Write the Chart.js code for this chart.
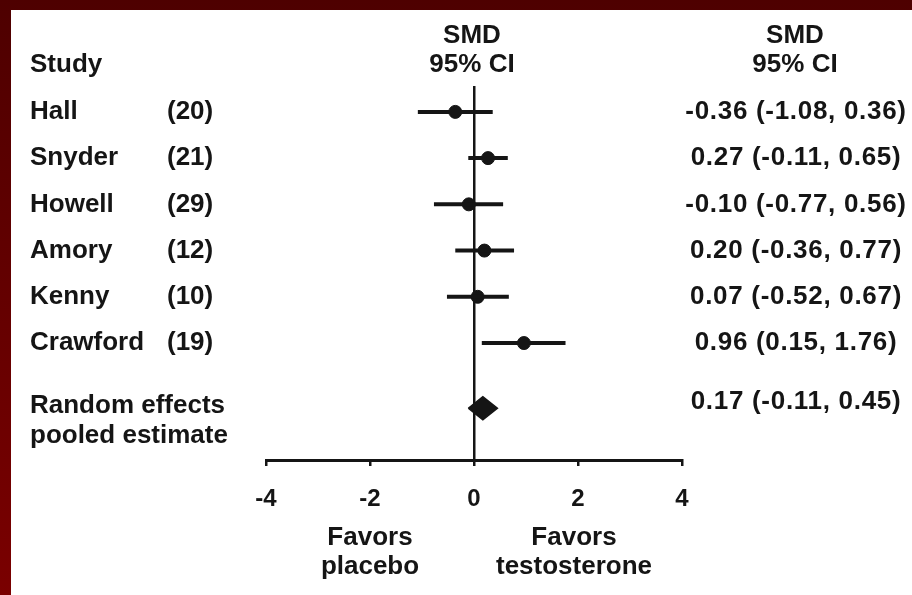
<!DOCTYPE html>
<html>
<head>
<meta charset="utf-8">
<script src="https://cdn.jsdelivr.net/npm/chart.js@4.4.1/dist/chart.umd.min.js"></script>
<style>
  html, body { margin: 0; padding: 0; }
  body { width: 912px; height: 595px; position: relative; overflow: hidden;
         background: linear-gradient(#4e0000, #7a0000); }
  #panel { position: absolute; left: 11px; top: 10px; width: 901px; height: 585px; background: #fff; }
  #c { position: absolute; left: 0; top: 0; }
</style>
</head>
<body>
<div id="panel"></div>
<canvas id="c" width="912" height="595"></canvas>
<script>
// ---- data ----
const studies = ['Hall', 'Snyder', 'Howell', 'Amory', 'Kenny', 'Crawford'];
const refNumbers = [20, 21, 29, 12, 10, 19];
const smd = [-0.36, 0.27, -0.10, 0.20, 0.07, 0.96];
const ciLow = [-1.08, -0.11, -0.77, -0.36, -0.52, 0.15];
const ciHigh = [0.36, 0.65, 0.56, 0.77, 0.67, 1.76];
const pooledLabel = ['Random effects', 'pooled estimate'];
const pooledSmd = 0.17;
const pooledLow = -0.11;
const pooledHigh = 0.45;
const xTicks = [-4, -2, 0, 2, 4];
const sideLabels = ['Favors\nplacebo', 'Favors\ntestosterone'];

// ---- layout helpers ----
const pooledRow = studies.length + 0.41;
const diamondHalf = 0.25;
const INK = '#151515';
const FONT = 'bold 26px "Liberation Sans", Arial, Helvetica, sans-serif';
const fmt = v => v.toFixed(2);

const datasets = [];
studies.forEach((s, i) => {
  datasets.push({
    type: 'line',
    data: [{x: ciLow[i], y: i}, {x: ciHigh[i], y: i}],
    borderColor: INK, borderWidth: 4, pointRadius: 0, fill: false
  });
});
datasets.push({
  type: 'scatter',
  data: studies.map((s, i) => ({x: smd[i], y: i})),
  backgroundColor: INK, borderColor: INK, pointRadius: 6.5, pointHoverRadius: 6.5
});
datasets.push({
  type: 'line',
  data: [
    {x: pooledLow, y: pooledRow},
    {x: pooledSmd, y: pooledRow - diamondHalf},
    {x: pooledHigh, y: pooledRow},
    {x: pooledSmd, y: pooledRow + diamondHalf},
    {x: pooledLow, y: pooledRow}
  ],
  borderColor: INK, backgroundColor: INK, borderWidth: 1.5, pointRadius: 0,
  fill: 'shape', tension: 0
});

const textPlugin = {
  id: 'forestText',
  afterDraw(chart) {
    const ctx = chart.ctx;
    const xs = chart.scales.x, ys = chart.scales.y;
    ctx.save();
    ctx.fillStyle = INK;
    ctx.font = FONT;
    ctx.textBaseline = 'middle';
    // headers
    ctx.textAlign = 'left';
    ctx.fillText('Study', 30, 65);
    ctx.textAlign = 'center';
    const x0 = xs.getPixelForValue(0);
    ctx.fillText('SMD', x0 - 2, 36);
    ctx.fillText('95% CI', x0 - 2, 65);
    ctx.fillText('SMD', 795, 36);
    ctx.fillText('95% CI', 795, 65);
    // study rows
    studies.forEach((s, i) => {
      const y = ys.getPixelForValue(i);
      ctx.textAlign = 'left';
      ctx.fillText(s, 30, y);
      ctx.fillText('(' + refNumbers[i] + ')', 167, y);
    });
    ctx.textAlign = 'center';
    ctx.letterSpacing = '0.7px';
    studies.forEach((s, i) => {
      const y = ys.getPixelForValue(i);
      ctx.fillText(fmt(smd[i]) + ' (' + fmt(ciLow[i]) + ', ' + fmt(ciHigh[i]) + ')', 796, y);
    });
    const yp = ys.getPixelForValue(pooledRow);
    ctx.fillText(fmt(pooledSmd) + ' (' + fmt(pooledLow) + ', ' + fmt(pooledHigh) + ')', 796, yp - 6);
    ctx.letterSpacing = '0px';
    // pooled label
    ctx.textAlign = 'left';
    ctx.fillText(pooledLabel[0], 30, yp - 2);
    ctx.fillText(pooledLabel[1], 30, yp + 28);
    // favors labels
    ctx.textAlign = 'center';
    const fx = [xs.getPixelForValue(-2), xs.getPixelForValue(2) - 4];
    sideLabels.forEach((t, k) => {
      const lines = t.split('\n');
      ctx.fillText(lines[0], fx[k], 538);
      ctx.fillText(lines[1], fx[k], 567);
    });
    ctx.restore();
  }
};

new Chart(document.getElementById('c'), {
  data: { datasets },
  options: {
    responsive: false,
    animation: false,
    events: [],
    layout: { padding: { left: 266, right: 230, top: 86, bottom: 0 } },
    plugins: { legend: { display: false }, tooltip: { enabled: false } },
    scales: {
      x: {
        type: 'linear', min: -4, max: 4,
        afterBuildTicks: s => { s.ticks = xTicks.map(v => ({value: v})); },
        afterFit: s => { s.height = 135; },
        grid: {
          drawOnChartArea: true,
          color: c => (c.tick && c.tick.value === 0) ? INK : 'rgba(0,0,0,0)',
          lineWidth: 2.5,
          tickColor: INK, tickLength: 6, tickWidth: 2.5
        },
        border: { display: true, color: INK, width: 3 },
        ticks: {
          color: INK, padding: 19,
          font: { family: '"Liberation Sans", Arial, sans-serif', size: 24, weight: 'bold' },
          maxRotation: 0, autoSkip: false
        }
      },
      y: {
        type: 'linear', min: -0.56, max: 7.53, reverse: true, display: false
      }
    }
  },
  plugins: [textPlugin]
});
</script>
</body>
</html>
